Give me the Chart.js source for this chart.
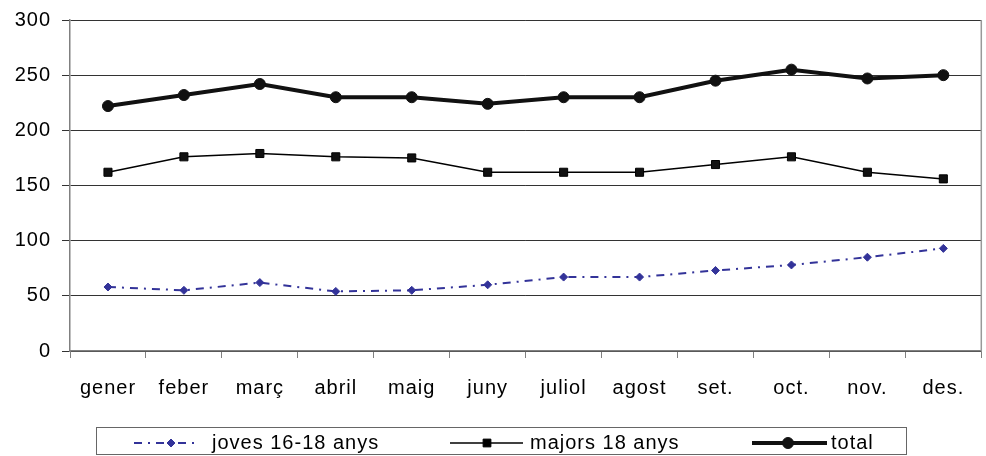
<!DOCTYPE html>
<html>
<head>
<meta charset="utf-8">
<script src="https://cdn.jsdelivr.net/npm/chart.js@4.4.1/dist/chart.umd.min.js"></script>
<style>
  html, body { margin: 0; padding: 0; background: #fff; overflow: hidden; }
  #wrap { width: 988px; height: 456px; position: relative; }
</style>
</head>
<body>
<div id="wrap"><canvas id="grafic"></canvas></div>
<script>
// mesos i valors llegits del gràfic
const mesos = ['gener', 'feber', 'març', 'abril', 'maig', 'juny', 'juliol', 'agost', 'set.', 'oct.', 'nov.', 'des.'];
const joves = [58, 55, 62, 54, 55, 60, 67, 67, 73, 78, 85, 93];
const majors = [162, 176, 179, 176, 175, 162, 162, 162, 169, 176, 162, 156];
const total = [222, 232, 242, 230, 230, 224, 230, 230, 245, 255, 247, 250];
const yMin = 0, yMax = 300, yStep = 50;

const FONT = 'Liberation Sans, Arial, sans-serif';
const BLAU = '#333399';

// espaiat de lletres de les etiquetes dels eixos
const espaiat = {
  id: 'espaiat',
  beforeDraw(chart) { chart.ctx.letterSpacing = '1px'; }
};

// vora dreta de l'àrea del gràfic
const voraDreta = {
  id: 'voraDreta',
  afterDatasetsDraw(chart) {
    const { ctx, chartArea: a } = chart;
    ctx.save();
    ctx.strokeStyle = '#999';
    ctx.lineWidth = 1.5;
    ctx.beginPath();
    ctx.moveTo(a.right, a.top);
    ctx.lineTo(a.right, a.bottom);
    ctx.stroke();
    ctx.restore();
  }
};

// llegenda dins d'una caixa, com a l'original
const llegenda = {
  id: 'llegenda',
  afterDraw(chart) {
    const ctx = chart.ctx;
    const dp = Chart.helpers.drawPoint;
    const y = 443;
    ctx.save();
    ctx.strokeStyle = '#666';
    ctx.lineWidth = 1;
    ctx.strokeRect(96.5, 427.5, 810, 27);

    const items = [
      { x0: 134, x1: 198, px: 171, txt: 'joves 16-18 anys', tx: 212, color: BLAU, lw: 2, dash: [8, 6, 2, 6], style: 'rectRot', r: 4 },
      { x0: 450, x1: 523, px: 487, txt: 'majors 18 anys', tx: 530, color: '#000', lw: 1.5, dash: [], style: 'rect', r: 5.5 },
      { x0: 752, x1: 827, px: 788, txt: 'total', tx: 831, color: '#111', lw: 4, dash: [], style: 'circle', r: 5.5 }
    ];
    items.forEach(it => {
      ctx.strokeStyle = it.color;
      ctx.lineWidth = it.lw;
      ctx.setLineDash(it.dash);
      ctx.beginPath();
      ctx.moveTo(it.x0, y);
      ctx.lineTo(it.x1, y);
      ctx.stroke();
      ctx.setLineDash([]);
      ctx.fillStyle = it.color;
      ctx.lineWidth = 1;
      dp(ctx, { pointStyle: it.style, radius: it.r, borderWidth: 1, rotation: 0 }, it.px, y);
      ctx.fillStyle = '#000';
      ctx.letterSpacing = '1px';
      ctx.font = '20px ' + FONT;
      ctx.textBaseline = 'middle';
      ctx.fillText(it.txt, it.tx, y);
    });
    ctx.restore();
  }
};

new Chart(document.getElementById('grafic'), {
  type: 'line',
  data: {
    labels: mesos,
    datasets: [
      {
        label: 'joves 16-18 anys',
        data: joves,
        borderColor: BLAU,
        backgroundColor: BLAU,
        borderWidth: 2,
        borderDash: [8, 6, 2, 6],
        pointStyle: 'rectRot',
        pointRadius: 4,
        pointBorderWidth: 1,
        tension: 0
      },
      {
        label: 'majors 18 anys',
        data: majors,
        borderColor: '#000',
        backgroundColor: '#111',
        borderWidth: 1.5,
        pointStyle: 'rect',
        pointRadius: 5.7,
        pointBorderWidth: 1,
        tension: 0
      },
      {
        label: 'total',
        data: total,
        borderColor: '#111',
        backgroundColor: '#111',
        borderWidth: 4,
        pointStyle: 'circle',
        pointRadius: 5.5,
        pointBorderWidth: 1,
        tension: 0
      }
    ]
  },
  options: {
    responsive: true,
    maintainAspectRatio: false,
    animation: false,
    devicePixelRatio: 1,
    layout: { padding: { top: 20, right: 0, bottom: 50, left: 0 } },
    plugins: {
      legend: { display: false },
      tooltip: { enabled: false }
    },
    scales: {
      x: {
        offset: true,
        grid: { offset: true, drawOnChartArea: false, drawTicks: true, tickLength: 7, color: '#808080' },
        border: { color: '#808080', width: 1.5 },
        ticks: { color: '#000', font: { family: FONT, size: 20 }, padding: 18, maxRotation: 0, autoSkip: false },
        afterFit: s => { s.height = 55; s.paddingLeft = 0; s.paddingRight = 0; }
      },
      y: {
        min: yMin,
        max: yMax,
        ticks: { stepSize: yStep, color: '#000', font: { family: FONT, size: 20 }, padding: 11 },
        grid: { color: '#333', lineWidth: 1, tickLength: 8 },
        border: { color: '#808080', width: 1.5 },
        afterFit: s => { s.width = 70; s.paddingTop = 0; s.paddingBottom = 0; }
      }
    }
  },
  plugins: [espaiat, voraDreta, llegenda]
});
</script>
</body>
</html>
